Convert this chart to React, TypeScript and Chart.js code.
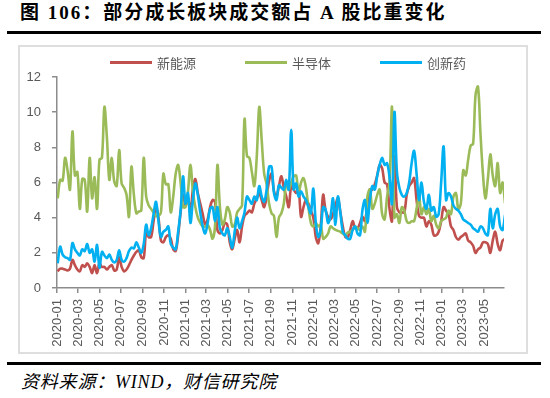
import React, { useEffect, useRef } from 'react';
import { Chart, registerables } from 'chart.js';

Chart.register(...registerables);

// ---- data ----
const seriesNames = ['新能源', '半导体', '创新药'];
const seriesColors = ['#C0504D', '#9BBB59', '#00B0F0'];
const firstWeek = '2020-01-03';

const newEnergy = [
  0.95, 1.1, 1.1, 1.05, 1.0, 1.1, 1.6, 1.3, 1.05, 0.95,
  1.3, 1.2, 1.4, 1.2, 0.85, 1.3, 0.85, 1.4, 1.2, 1.2,
  1.05, 1.2, 1.3, 1.0, 1.05, 1.75, 1.2, 0.95, 1.05, 1.3,
  1.6, 1.85, 2.05, 2.15, 1.75, 1.7, 3.2, 2.9, 2.9, 3.8,
  4.6, 4.0, 2.7, 2.6, 2.9, 3.0, 2.8, 2.2, 2.1, 3.0,
  4.3, 5.3, 4.7, 5.1, 4.3, 5.6, 6.2, 5.4, 4.8, 4.2,
  3.6, 3.9, 4.6, 5.0, 4.9, 3.3, 3.1, 3.3, 3.7, 3.6,
  2.6, 2.2, 2.8, 3.3, 2.6, 3.5, 4.1, 4.25, 4.4, 4.3,
  4.8, 5.1, 5.4, 5.0, 4.6, 5.2, 6.1, 6.5, 5.5, 5.2,
  5.8, 6.35, 5.7, 5.2, 4.6, 5.8, 5.6, 5.4, 5.6, 4.05,
  4.6, 5.0, 4.8, 4.4, 4.0, 2.9, 2.55, 3.5, 5.3, 4.4,
  4.05, 3.9, 4.2, 4.7, 5.1, 4.3, 3.5, 2.9, 2.9, 3.3,
  3.8, 3.4, 3.4, 3.7, 4.05, 3.8, 4.8, 5.6, 5.6, 5.9,
  6.4, 7.0, 6.8, 6.0, 5.9, 4.5, 3.8, 7.5, 4.6, 4.3,
  4.3, 4.3, 5.3, 5.8, 6.0, 6.25, 5.0, 4.1, 4.0, 4.0,
  3.5, 3.8, 3.6, 3.0, 3.0, 3.2, 3.8, 4.6, 4.4, 4.2,
  3.5, 3.3, 2.9, 2.75, 2.9, 3.0, 3.1, 2.7, 2.6, 2.4,
  2.0, 2.2, 2.3, 2.6, 2.6, 2.5, 2.0, 2.7, 3.2, 2.5,
  2.15, 2.7, 2.8,
];

const semiconductor = [
  5.1, 6.15, 6.1, 7.4, 6.7, 5.6, 8.9, 6.4, 6.6, 4.5,
  6.2, 6.15, 4.35, 7.4, 5.1, 6.3, 4.5, 7.3, 7.4, 10.3,
  8.6, 6.15, 7.4, 6.05, 5.8, 7.85, 5.95, 5.7, 5.3, 4.05,
  6.9, 5.3, 4.25, 4.35, 4.4, 7.4, 5.2, 4.7, 4.5, 4.3,
  4.1, 4.1, 4.3, 6.5, 5.9, 5.9, 4.3, 5.2, 6.5, 7.0,
  6.0, 4.6, 4.6, 5.5, 7.0, 5.5, 4.6, 4.0, 3.7, 3.5,
  3.5, 3.6, 3.3, 2.8, 3.5, 7.0, 4.6, 3.6, 3.9, 4.6,
  4.3, 3.5, 3.6, 4.3, 4.5, 4.7, 9.6, 7.5, 7.4, 6.6,
  5.8, 7.5, 10.3, 8.4, 6.5, 5.9, 4.8, 4.25, 4.1, 2.9,
  4.0, 4.25, 4.8, 6.0, 5.6, 6.0, 6.35, 6.4, 5.4, 6.0,
  6.25, 5.7, 4.6, 3.7, 3.5, 3.7, 3.5, 3.6, 2.8, 2.9,
  3.1, 3.5, 3.4, 3.3, 3.25, 3.2, 3.1, 3.0, 3.15, 3.2,
  3.3, 3.5, 3.4, 3.3, 3.5, 3.2, 5.2, 5.6, 4.5, 4.8,
  5.3, 5.6, 4.2, 3.9, 5.2, 6.0, 10.3, 4.0, 4.2, 3.7,
  4.6, 4.4, 3.8, 3.7, 3.8, 3.8, 4.5, 5.2, 4.2, 4.6,
  4.2, 4.5, 3.8, 4.1, 3.6, 3.4, 3.8, 3.9, 4.0, 4.4,
  4.2, 5.2, 5.4, 4.5, 4.8, 6.7, 6.4, 7.3, 8.1, 8.2,
  11.0, 11.45, 8.8, 6.5, 5.1, 6.2, 7.6, 6.4, 5.8, 7.1,
  5.4, 6.0, 4.8,
];

const innovativeDrug = [
  1.4, 2.35, 1.9, 1.75, 1.7, 1.6, 2.55, 2.2, 2.0, 1.85,
  2.2, 2.1, 2.5, 2.0, 2.2, 1.5, 2.45, 1.15, 2.05, 1.85,
  1.7, 1.9, 1.6, 1.45, 1.6, 2.15, 1.6, 1.5, 1.7, 2.1,
  2.3, 2.25, 2.6, 2.3, 2.0, 2.5, 3.6, 3.0, 3.4, 4.2,
  4.9, 3.8, 2.9, 3.2, 3.3, 3.5, 2.5, 2.3, 2.2, 3.2,
  4.4, 6.35, 4.8, 5.4, 3.7, 5.0, 5.95, 5.3, 4.3, 3.5,
  3.1, 3.7, 4.5, 4.6, 3.8, 4.6, 3.4, 3.1, 3.0, 3.4,
  2.9, 2.3, 3.2, 4.0, 3.4, 3.8, 4.3, 5.2, 5.0, 4.8,
  5.2, 5.0, 5.8, 5.2, 4.9, 5.6, 6.9, 6.9, 5.4, 5.0,
  5.85, 5.7, 5.6, 6.15, 5.6, 9.0, 5.6, 5.95, 5.2, 5.5,
  5.2, 5.0, 4.6, 4.25, 5.65, 3.7, 2.9, 3.3, 4.6, 4.45,
  3.7, 4.1, 5.1, 3.6, 5.2, 4.3, 3.2, 3.0, 2.8, 2.8,
  3.3, 3.5, 3.1, 3.0, 4.45, 5.0, 3.7, 5.0, 5.8, 5.6,
  6.4, 7.0, 7.4, 7.0, 7.1, 6.3, 4.8, 10.0, 6.6, 5.7,
  5.3, 5.2, 5.4, 6.0, 7.1, 7.8, 6.5, 5.0, 6.0, 4.9,
  4.5, 5.3, 4.4, 4.6, 4.05, 4.2, 6.0, 8.05, 5.0, 5.4,
  5.2, 4.7, 4.5, 4.4, 4.2, 3.9, 3.8, 3.7, 3.6, 3.4,
  3.3, 3.2, 3.5, 3.4, 3.1, 3.0, 4.5, 3.4, 4.2, 4.5,
  3.5, 3.3, 4.15,
];

const yTicks = [0, 2, 4, 6, 8, 10, 12];
const xTickLabels = [
  '2020-01', '2020-03', '2020-05', '2020-07', '2020-09', '2020-11',
  '2021-01', '2021-03', '2021-05', '2021-07', '2021-09', '2021-11',
  '2022-01', '2022-03', '2022-05', '2022-07', '2022-09', '2022-11',
  '2023-01', '2023-03', '2023-05',
];
const xAxisEnd = '2023-07-01';

// ---- helpers (dates -> day offsets) ----
const DAY = 86400000;
const ORIGIN = Date.UTC(2020, 0, 1);
const dayOf = (iso: string) => (Date.parse(iso + 'T00:00:00Z') - ORIGIN) / DAY;
const firstDay = dayOf(firstWeek);
const weekDays = newEnergy.map((_, i) => firstDay + 7 * i);
const tickDays = xTickLabels.map((l) => dayOf(l + '-01'));

const seriesValues = [newEnergy, semiconductor, innovativeDrug];

const AXIS = '#8c8c8c';
const TEXT = '#595959';
const SANS = '"Liberation Sans", Arial, sans-serif';
const CJK = '"Noto Sans CJK SC", sans-serif';

export default function App() {
  const ref = useRef<HTMLCanvasElement | null>(null);

  useEffect(() => {
    const canvas = ref.current;
    if (!canvas) return;
    const chart = new Chart(canvas, {
      type: 'line',
      data: {
        datasets: seriesValues.map((vals, k) => ({
          label: seriesNames[k],
          data: vals.map((v, i) => ({ x: weekDays[i], y: v })),
          borderColor: seriesColors[k],
          backgroundColor: seriesColors[k],
          borderWidth: 2.6,
          pointRadius: 0,
          tension: 0.35,
          fill: false,
          order: 2 - k,
        })),
      },
      options: {
        responsive: false,
        animation: false,
        events: [],
        layout: { padding: { left: 0, right: 22, top: 31, bottom: 0 } },
        plugins: { legend: { display: false }, tooltip: { enabled: false } },
        scales: {
          x: {
            type: 'linear',
            min: 0,
            max: dayOf(xAxisEnd) - 4,
            afterBuildTicks: (s: any) => {
              s.ticks = tickDays.map((v) => ({ value: v }));
            },
            afterFit: (s: any) => {
              s.height = 64;
            },
            ticks: {
              autoSkip: false,
              minRotation: 90,
              maxRotation: 90,
              padding: 6,
              color: TEXT,
              font: { family: SANS, size: 13 },
              callback: (v: any) => {
                const i = tickDays.indexOf(Number(v));
                return i >= 0 ? xTickLabels[i] : '';
              },
            },
            grid: { drawOnChartArea: false, drawTicks: true, tickLength: 5, color: AXIS, lineWidth: 1.5 },
            border: { display: true, color: AXIS, width: 1.5 },
          },
          y: {
            min: 0,
            max: 12,
            afterBuildTicks: (s: any) => {
              s.ticks = yTicks.map((v) => ({ value: v }));
            },
            afterFit: (s: any) => {
              s.width = 38;
            },
            ticks: { padding: 11, color: TEXT, font: { family: SANS, size: 13 } },
            grid: { drawOnChartArea: false, drawTicks: true, tickLength: 5, color: AXIS, lineWidth: 1.5 },
            border: { display: true, color: AXIS, width: 1.5 },
          },
        },
      },
    } as any);
    return () => chart.destroy();
  }, []);

  return (
    <div style={{ position: 'fixed', left: 0, top: 0, width: 550, height: 398, background: '#fff', overflow: 'hidden' }}>
      <div
        style={{
          position: 'absolute', left: 20, top: 3, fontSize: 19, lineHeight: '20px', fontWeight: 'bold',
          letterSpacing: 2, color: '#000', whiteSpace: 'nowrap',
          fontFamily: '"Liberation Serif", "Noto Sans CJK SC", serif',
        }}
      >
        图 106：部分成长板块成交额占 A 股比重变化
      </div>
      <div style={{ position: 'absolute', left: 7, top: 31, width: 534, height: 3, background: '#000' }} />
      <div style={{ position: 'absolute', left: 18, top: 45, width: 506, height: 305, border: '2px solid #dedede' }} />
      <canvas
        ref={ref}
        width={507}
        height={306}
        style={{ position: 'absolute', left: 19, top: 46, width: 507, height: 306 }}
      />
      {seriesNames.map((name, k) => (
        <div
          key={name}
          style={{
            position: 'absolute', left: 110 + 135 * k, top: 54, height: 16, display: 'flex', alignItems: 'center',
            whiteSpace: 'nowrap',
          }}
        >
          <span style={{ display: 'inline-block', width: 42, height: 3, background: seriesColors[k], marginRight: 5 }} />
          <span style={{ fontFamily: CJK, fontSize: 13, color: TEXT }}>{name}</span>
        </div>
      ))}
      <div style={{ position: 'absolute', left: 7, top: 362, width: 534, height: 3, background: '#000' }} />
      <div
        style={{
          position: 'absolute', left: 21, top: 372, fontSize: 18, lineHeight: '21px', fontStyle: 'italic',
          letterSpacing: 0.8, color: '#000', whiteSpace: 'nowrap',
          fontFamily: '"Liberation Serif", "Noto Sans CJK SC", serif',
        }}
      >
        资料来源：WIND，财信研究院
      </div>
    </div>
  );
}
